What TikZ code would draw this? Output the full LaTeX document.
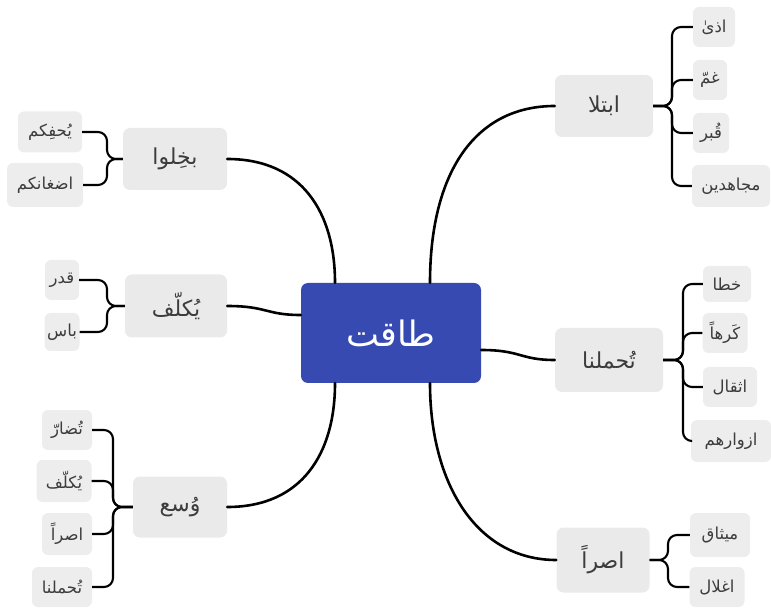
\documentclass[tikz,border=0pt]{standalone}
\usepackage{fontspec}
\newfontfamily\arabicfont[Script=Arabic]{DejaVu Sans}
\TeXXeTstate=1
\definecolor{cblue}{RGB}{54,74,178}
\definecolor{pgray}{RGB}{234,234,234}
\definecolor{cgray}{RGB}{237,237,237}
\definecolor{tgray}{RGB}{60,60,60}
\newcommand\artxt[1]{\beginR #1\endR}
\begin{document}
\begin{tikzpicture}[x=1pt,y=-1pt,
  centerbox/.style={fill=cblue, rounded corners=7pt, text=white, font=\arabicfont\fontsize{35}{40}\selectfont, inner sep=0pt},
  parentbox/.style={fill=pgray, rounded corners=7pt, text=tgray, font=\arabicfont\fontsize{22}{26}\selectfont, inner sep=0pt},
  childbox/.style={fill=cgray, rounded corners=6pt, text=tgray, font=\arabicfont\fontsize{16.5}{19}\selectfont, inner sep=0pt},
  mainline/.style={line width=2.6pt, line cap=round},
  brline/.style={line width=2.1pt, rounded corners=9pt}
]
\useasboundingbox (0,0) rectangle (771,609);

% centre
\node[centerbox, minimum width=180pt, minimum height=100pt] (cc) at (391,333) {\artxt{طاقت}};

% right parents
\node[parentbox, minimum width=98pt, minimum height=62pt] (p1) at (604,106) {\artxt{ابتلا}};
\node[parentbox, minimum width=108pt, minimum height=64pt] (p2) at (609,360) {\artxt{تُحملنا}};
\node[parentbox, minimum width=93pt, minimum height=65pt] (p3) at (603,560) {\artxt{اصراً}};

% left parents
\node[parentbox, minimum width=104pt, minimum height=62pt] (q1) at (175,159) {\artxt{بخِلوا}};
\node[parentbox, minimum width=102pt, minimum height=63pt] (q2) at (176,306) {\artxt{يُكلّف}};
\node[parentbox, minimum width=94pt, minimum height=61pt] (q3) at (180,507) {\artxt{وُسع}};

% right children
\node[childbox, minimum width=42pt, minimum height=40pt] (a1) at (714,27) {\artxt{اذىٰ}};
\node[childbox, minimum width=34pt, minimum height=40pt] (a2) at (710,80) {\artxt{غمّ}};
\node[childbox, minimum width=36pt, minimum height=40pt] (a3) at (711,133) {\artxt{قُبر}};
\node[childbox, minimum width=78pt, minimum height=42pt] (a4) at (731,186) {\artxt{مجاهدين}};

\node[childbox, minimum width=48pt, minimum height=36pt] (b1) at (727,284) {\artxt{خطا}};
\node[childbox, minimum width=45pt, minimum height=40pt] (b2) at (725,333) {\artxt{كَرهاً}};
\node[childbox, minimum width=54pt, minimum height=40pt] (b3) at (730,387) {\artxt{اثقال}};
\node[childbox, minimum width=80pt, minimum height=42pt] (b4) at (731,441) {\artxt{ازوارهم}};

\node[childbox, minimum width=60pt, minimum height=44pt] (c1) at (720,535) {\artxt{ميثاق}};
\node[childbox, minimum width=55pt, minimum height=40pt] (c2) at (717,587) {\artxt{اغلال}};

% left children
\node[childbox, minimum width=64pt, minimum height=41pt] (d1) at (50,132) {\artxt{يُحفِكم}};
\node[childbox, minimum width=76pt, minimum height=44pt] (d2) at (45,185) {\artxt{اضغانكم}};

\node[childbox, minimum width=34pt, minimum height=40pt] (e1) at (62,280) {\artxt{قدر}};
\node[childbox, minimum width=35pt, minimum height=38pt] (e2) at (62,332) {\artxt{باس}};

\node[childbox, minimum width=50pt, minimum height=40pt] (f1) at (67,430) {\artxt{تُضارّ}};
\node[childbox, minimum width=55pt, minimum height=42pt] (f2) at (64,481) {\artxt{يُكلّف}};
\node[childbox, minimum width=50pt, minimum height=42pt] (f3) at (67,534) {\artxt{اصراً}};
\node[childbox, minimum width=60pt, minimum height=40pt] (f4) at (62,587) {\artxt{تُحملنا}};

% bracket junctions
\coordinate (v1) at (672,106);
\coordinate (v2) at (683,360);
\coordinate (v3) at (668,560);
\coordinate (w1) at (107,159);
\coordinate (w2) at (107,306);
\coordinate (w3) at (113,507);

% brackets right
\foreach \c in {a1,a2,a3,a4} \draw[brline] (p1.east) -- (v1) |- (\c.west);
\foreach \c in {b1,b2,b3,b4} \draw[brline] (p2.east) -- (v2) |- (\c.west);
\foreach \c in {c1,c2} \draw[brline] (p3.east) -- (v3) |- (\c.west);
% brackets left
\foreach \c in {d1,d2} \draw[brline] (q1.west) -- (w1) |- (\c.east);
\foreach \c in {e1,e2} \draw[brline] (q2.west) -- (w2) |- (\c.east);
\foreach \c in {f1,f2,f3,f4} \draw[brline] (q3.west) -- (w3) |- (\c.east);

% main connectors
\draw[mainline] ([xshift=39pt]cc.north) .. controls +(0,-110) and +(-80,0) .. (p1.west);
\draw[mainline] ([yshift=-17pt]cc.east) .. controls +(40,0) and +(-35,0) .. (p2.west);
\draw[mainline] ([xshift=39pt]cc.south) .. controls +(0,100) and +(-80,0) .. (p3.west);
\draw[mainline] (q1.east) .. controls +(75,0) and +(0,-70) .. ([xshift=-56pt]cc.north);
\draw[mainline] (q2.east) .. controls +(40,0) and +(-35,0) .. ([yshift=18pt]cc.west);
\draw[mainline] (q3.east) .. controls +(75,0) and +(0,70) .. ([xshift=-56pt]cc.south);
\end{tikzpicture}
\end{document}
